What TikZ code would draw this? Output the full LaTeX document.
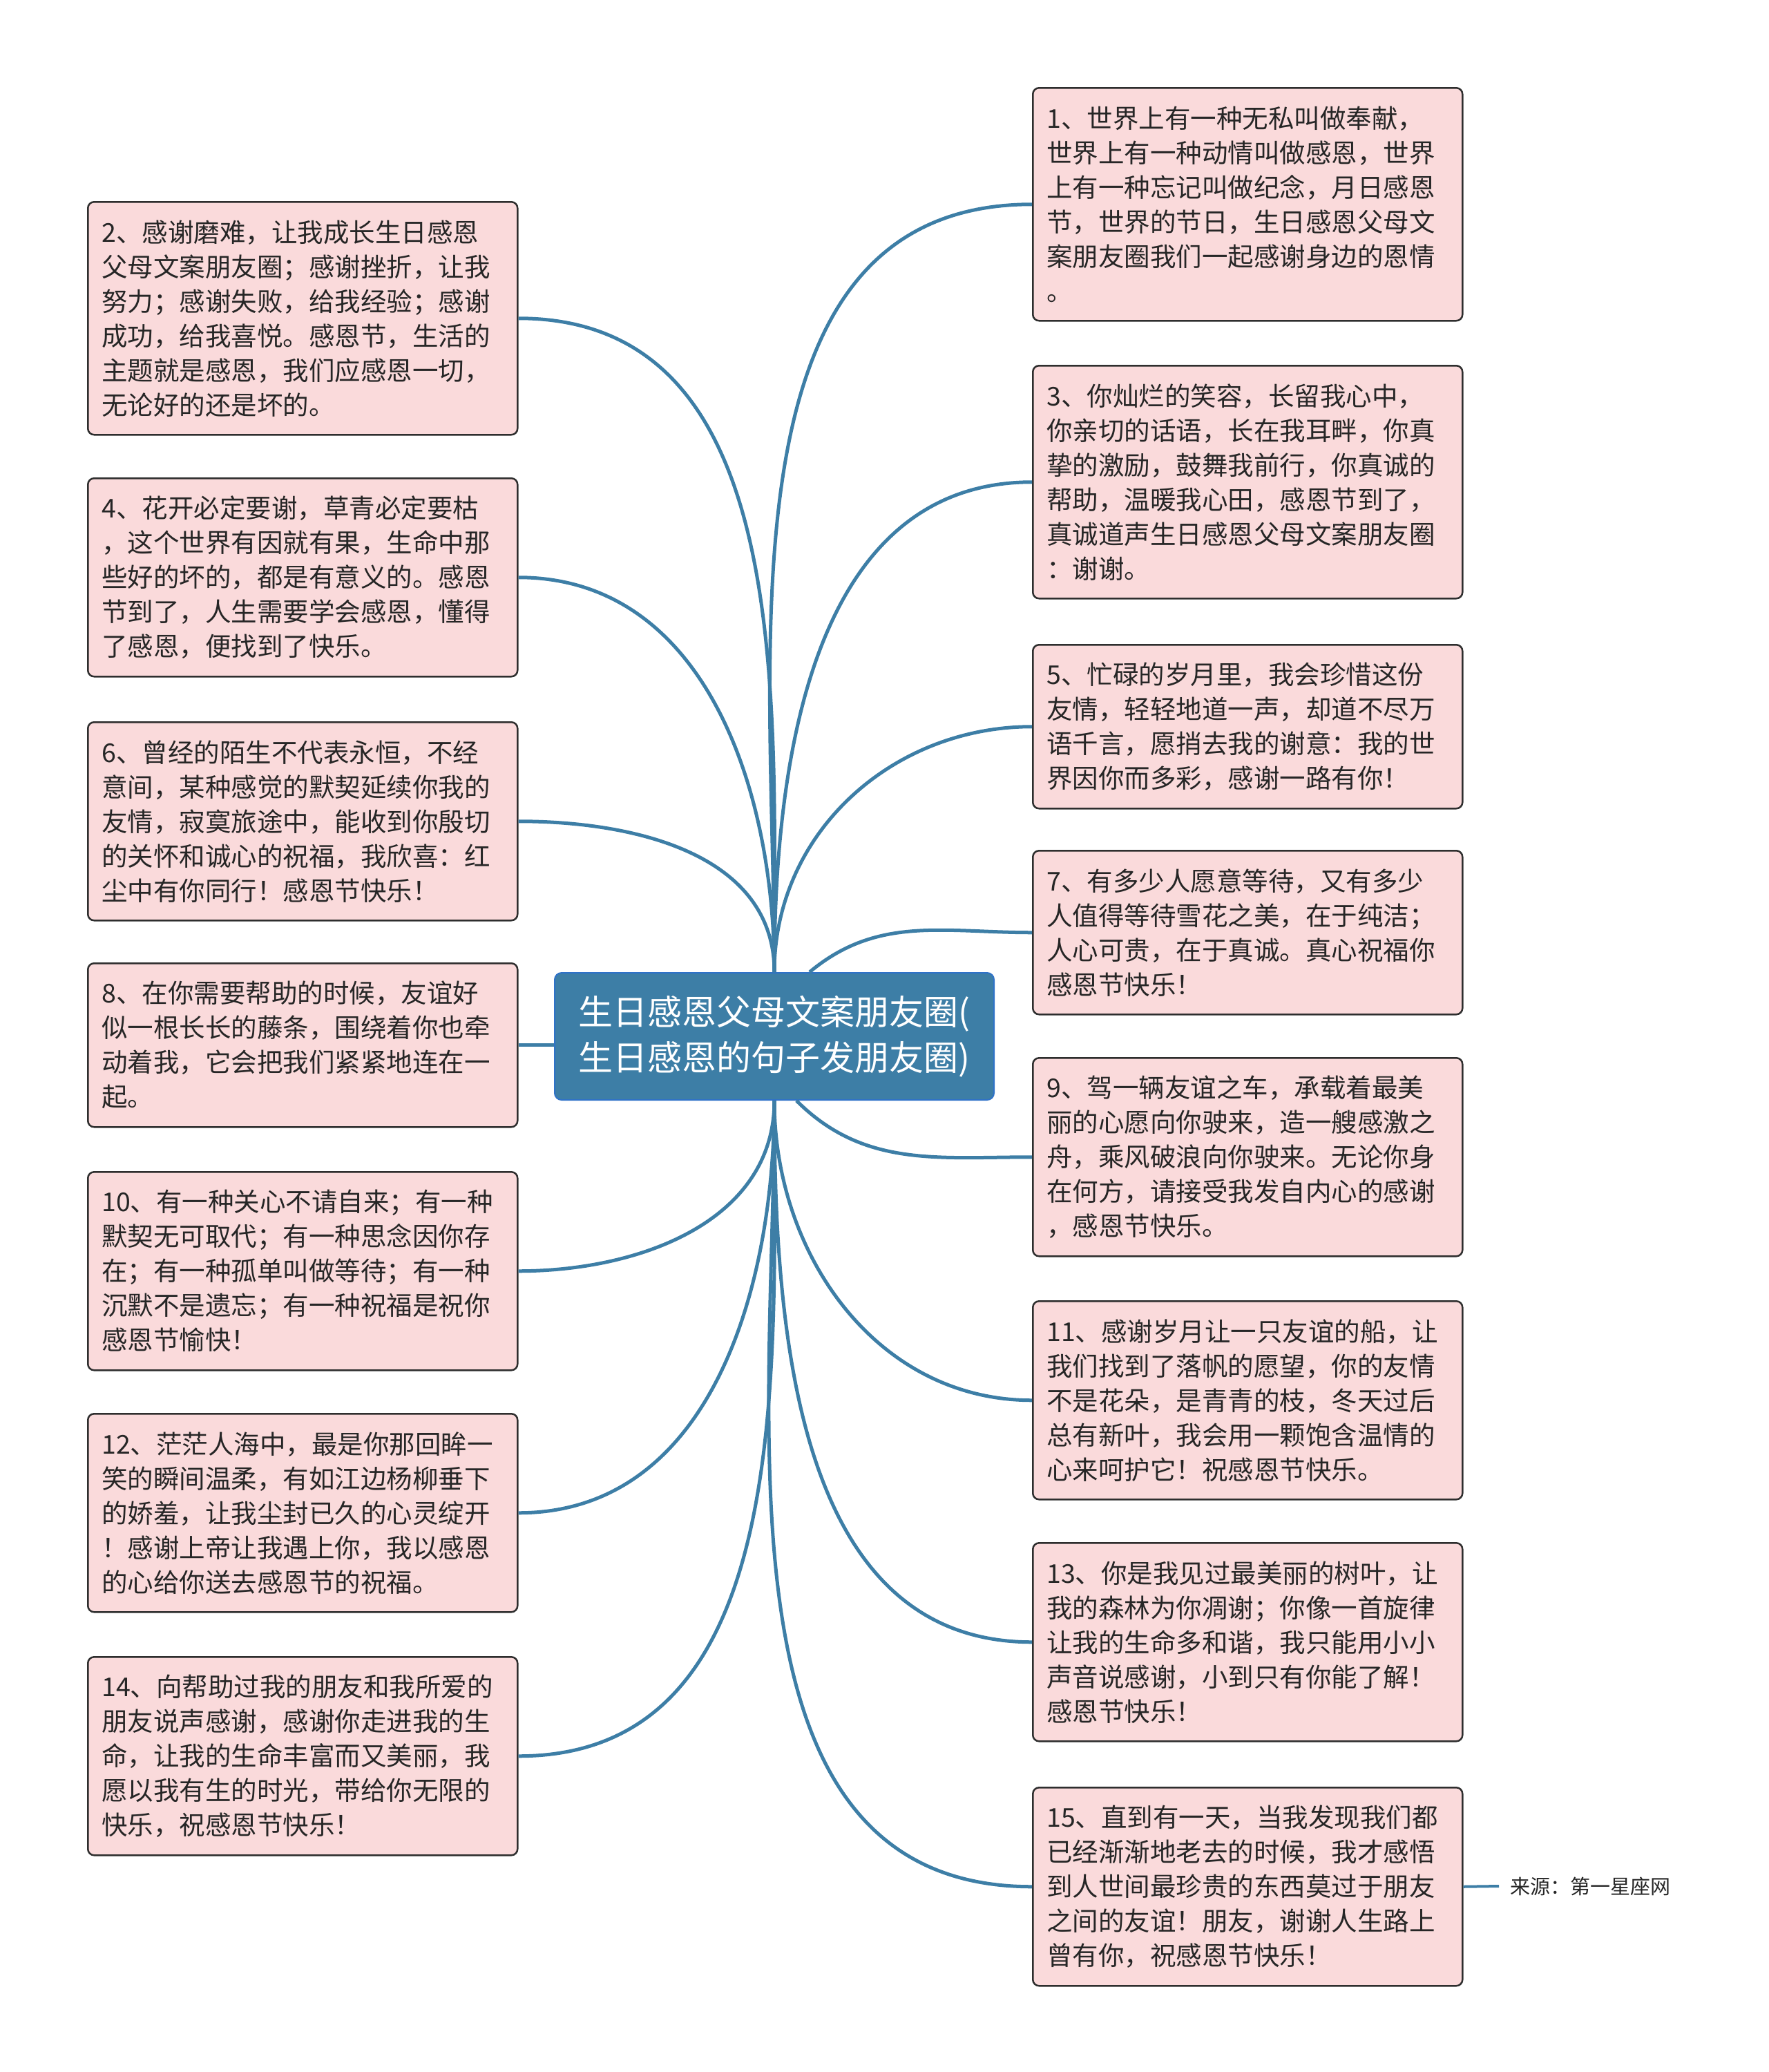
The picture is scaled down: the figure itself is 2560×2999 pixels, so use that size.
\documentclass[tikz,border=0pt]{standalone}
\usepackage{fontspec}
\setmainfont{Noto Sans CJK SC}
\usepackage{xcolor}
\usetikzlibrary{positioning, calc}

\definecolor{topicblue}{HTML}{3D7EA6}
\definecolor{topicedge}{HTML}{2F72C8}
\definecolor{cardpink}{HTML}{FADADB}
\definecolor{cardedge}{HTML}{2E2E2E}
\definecolor{inkgray}{HTML}{262626}

\begin{document}
\begin{tikzpicture}[x=1pt, y=-1pt,
    topic/.style={fill=topicblue, draw=topicedge, line width=2pt, rounded corners=10pt,
                  text=white, font=\fontsize{50}{66}\selectfont, align=center,
                  minimum width=636pt, minimum height=184pt, inner sep=0pt},
    card/.style={fill=cardpink, draw=cardedge, line width=2.5pt, rounded corners=9pt,
                 text=inkgray, font=\fontsize{37.5}{50}\selectfont, align=left,
                 text width=582pt, inner xsep=20pt, inner ysep=0pt, anchor=north west,
                 minimum height={#1*50pt+37pt}},
    branch/.style={draw=topicblue, line width=5pt},
    source/.style={text=inkgray, font=\fontsize{29}{36}\selectfont, anchor=west, inner xsep=16pt}]

        \useasboundingbox[fill=white] (0,0) rectangle (2560,2999);

        % 1. Central topic
        \node[topic] (c) at (1121,1500) {生日感恩父母文案朋友圈(\\生日感恩的句子发朋友圈)};

        % 2. Right column (odd numbers)
        \node[card=6] (R1) at (1494,126) {1、世界上有一种无私叫做奉献，\\世界上有一种动情叫做感恩，世界\\上有一种忘记叫做纪念，月日感恩\\节，世界的节日，生日感恩父母文\\案朋友圈我们一起感谢身边的恩情\\。};
        \node[card=6] (R3) at (1494,528) {3、你灿烂的笑容，长留我心中，\\你亲切的话语，长在我耳畔，你真\\挚的激励，鼓舞我前行，你真诚的\\帮助，温暖我心田，感恩节到了，\\真诚道声生日感恩父母文案朋友圈\\：谢谢。};
        \node[card=4] (R5) at (1494,932) {5、忙碌的岁月里，我会珍惜这份\\友情，轻轻地道一声，却道不尽万\\语千言，愿捎去我的谢意：我的世\\界因你而多彩，感谢一路有你！};
        \node[card=4] (R7) at (1494,1230) {7、有多少人愿意等待，又有多少\\人值得等待雪花之美，在于纯洁；\\人心可贵，在于真诚。真心祝福你\\感恩节快乐！};
        \node[card=5] (R9) at (1494,1530) {9、驾一辆友谊之车，承载着最美\\丽的心愿向你驶来，造一艘感激之\\舟，乘风破浪向你驶来。无论你身\\在何方，请接受我发自内心的感谢\\，感恩节快乐。};
        \node[card=5] (R11) at (1494,1882) {11、感谢岁月让一只友谊的船，让\\我们找到了落帆的愿望，你的友情\\不是花朵，是青青的枝，冬天过后\\总有新叶，我会用一颗饱含温情的\\心来呵护它！祝感恩节快乐。};
        \node[card=5] (R13) at (1494,2232) {13、你是我见过最美丽的树叶，让\\我的森林为你凋谢；你像一首旋律\\让我的生命多和谐，我只能用小小\\声音说感谢，小到只有你能了解！\\感恩节快乐！};
        \node[card=5] (R15) at (1494,2586) {15、直到有一天，当我发现我们都\\已经渐渐地老去的时候，我才感悟\\到人世间最珍贵的东西莫过于朋友\\之间的友谊！朋友，谢谢人生路上\\曾有你，祝感恩节快乐！};

        % 3. Left column (even numbers)
        \node[card=6] (L2) at (126,291) {2、感谢磨难，让我成长生日感恩\\父母文案朋友圈；感谢挫折，让我\\努力；感谢失败，给我经验；感谢\\成功，给我喜悦。感恩节，生活的\\主题就是感恩，我们应感恩一切，\\无论好的还是坏的。};
        \node[card=5] (L4) at (126,691) {4、花开必定要谢，草青必定要枯\\，这个世界有因就有果，生命中那\\些好的坏的，都是有意义的。感恩\\节到了，人生需要学会感恩，懂得\\了感恩，便找到了快乐。};
        \node[card=5] (L6) at (126,1044) {6、曾经的陌生不代表永恒，不经\\意间，某种感觉的默契延续你我的\\友情，寂寞旅途中，能收到你殷切\\的关怀和诚心的祝福，我欣喜：红\\尘中有你同行！感恩节快乐！};
        \node[card=4] (L8) at (126,1393) {8、在你需要帮助的时候，友谊好\\似一根长长的藤条，围绕着你也牵\\动着我，它会把我们紧紧地连在一\\起。};
        \node[card=5] (L10) at (126,1695) {10、有一种关心不请自来；有一种\\默契无可取代；有一种思念因你存\\在；有一种孤单叫做等待；有一种\\沉默不是遗忘；有一种祝福是祝你\\感恩节愉快！};
        \node[card=5] (L12) at (126,2045) {12、茫茫人海中，最是你那回眸一\\笑的瞬间温柔，有如江边杨柳垂下\\的娇羞，让我尘封已久的心灵绽开\\！感谢上帝让我遇上你，我以感恩\\的心给你送去感恩节的祝福。};
        \node[card=5] (L14) at (126,2397) {14、向帮助过我的朋友和我所爱的\\朋友说声感谢，感谢你走进我的生\\命，让我的生命丰富而又美丽，我\\愿以我有生的时光，带给你无限的\\快乐，祝感恩节快乐！};

        % 4. Source note
        \node[source] (src) at (2170,2730) {来源：第一星座网};

        % 5. Branches from the top edge (controls written out: to[out,in] overflows at this size)
        \draw[branch] (c.north) .. controls +(0,-460) and +(-460,0) .. (R1.west);
        \draw[branch] (c.north) .. controls +(0,-315) and +(-315,0) .. (R3.west);
        \draw[branch] (c.north) .. controls +(0,-202) and +(-202,0) .. (R5.west);
        \draw[branch] ($(c.north)+(51,0)$) .. controls +(98,-82) and +(-128,0) .. (R7.west);
        \draw[branch] (c.north) .. controls +(0,-400) and +(400,0) .. (L2.east);
        \draw[branch] (c.north) .. controls +(0,-268) and +(268,0) .. (L4.east);
        \draw[branch] (c.north) .. controls +(0,-170) and +(170,0) .. (L6.east);

        % 6. Branches from the bottom edge
        \draw[branch] ($(c.south)+(32,0)$) .. controls +(97,97) and +(-137,0) .. (R9.west);
        \draw[branch] (c.south) .. controls +(0,224) and +(-224,0) .. (R11.west);
        \draw[branch] (c.south) .. controls +(0,340) and +(-340,0) .. (R13.west);
        \draw[branch] (c.south) .. controls +(0,469) and +(-469,0) .. (R15.west);
        \draw[branch] (c.south) .. controls +(0,175) and +(175,0) .. (L10.east);
        \draw[branch] (c.south) .. controls +(0,276) and +(276,0) .. (L12.east);
        \draw[branch] (c.south) .. controls +(0,400) and +(400,0) .. (L14.east);

        % 7. Straight branch and source line
        \draw[branch] (L8.east) -- (L8.east -| c.west);
        \draw[branch, line width=4pt] (R15.east) -- (src.west);

\end{tikzpicture}
\end{document}
